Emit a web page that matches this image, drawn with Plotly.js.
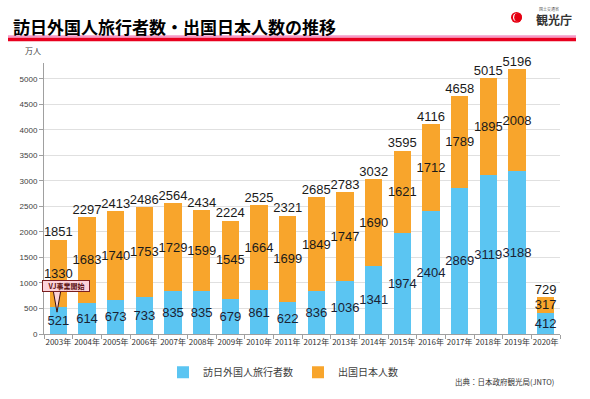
<!DOCTYPE html>
<html><head><meta charset="utf-8">
<script src="https://cdn.plot.ly/plotly-3.0.1.min.js"></script>
<style>html,body{margin:0;padding:0;background:#fff}#c{width:590px;height:399px}</style>
</head><body><div id="c"></div>
<script>
const years = ["2003年","2004年","2005年","2006年","2007年","2008年","2009年","2010年","2011年","2012年","2013年","2014年","2015年","2016年","2017年","2018年","2019年","2020年"];
const inbound = [521,614,673,733,835,835,679,861,622,836,1036,1341,1974,2404,2869,3119,3188,412];
const outbound = [1330,1683,1740,1753,1729,1599,1545,1664,1699,1849,1747,1690,1621,1712,1789,1895,2008,317];
const totals = [1851,2297,2413,2486,2564,2434,2224,2525,2321,2685,2783,3032,3595,4116,4658,5015,5196,729];
const yTicks = [0,500,1000,1500,2000,2500,3000,3500,4000,4500,5000];

const W=590,H=399,L=44,R=30,T=63,B=63;
const PW=W-L-R, PH=H-T-B;
const px=x=>(x-L)/PW, py=y=>(H-B-y)/PH;
const jp='"Noto Sans CJK JP", "Noto Sans", sans-serif';
const lab='"Liberation Sans", Arial, sans-serif';

const data=[
 {type:'bar',name:'訪日外国人旅行者数',x:years,y:inbound,text:inbound.map(String),
  textposition:'inside',insidetextanchor:'middle',textangle:0,constraintext:'none',
  insidetextfont:{family:lab,size:13,color:'#1a2233'},marker:{color:'#5BC5F2'},hoverinfo:'skip'},
 {type:'bar',name:'出国日本人数',x:years,y:outbound,text:outbound.map(String),
  textposition:'inside',insidetextanchor:'middle',textangle:0,constraintext:'none',
  insidetextfont:{family:lab,size:13,color:'#1a1a1a'},marker:{color:'#F8A52C'},hoverinfo:'skip'},
 {type:'scatter',mode:'text',x:years,y:totals,text:totals.map(String),textposition:'top center',
  textfont:{family:lab,size:13,color:'#1a1a1a'},showlegend:false,hoverinfo:'skip',cliponaxis:false}
];

const shapes=[
 {type:'rect',xref:'paper',yref:'paper',x0:px(8),x1:px(576),y0:py(35),y1:py(37.5),fillcolor:'#F59AC8',line:{width:0}},
 {type:'rect',xref:'paper',yref:'paper',x0:px(8),x1:px(576),y0:py(37.5),y1:py(41),fillcolor:'#E8001E',line:{width:0}},
 {type:'circle',xref:'paper',yref:'paper',x0:px(511),x1:px(522),y0:py(11.5),y1:py(22.5),fillcolor:'#E60012',line:{width:0}},
 {type:'circle',xref:'paper',yref:'paper',x0:px(513),x1:px(521),y0:py(13),y1:py(21),fillcolor:'#ffffff',line:{width:0}},
 {type:'circle',xref:'paper',yref:'paper',x0:px(514.2),x1:px(521.8),y0:py(12.6),y1:py(21.4),fillcolor:'#E60012',line:{width:0}},
 {type:'path',xref:'paper',yref:'paper',
  path:`M ${px(53)} ${py(291)} L ${px(57)} ${py(314)} L ${px(61)} ${py(291)} Z`,
  fillcolor:'#FCD3DA',line:{color:'#3a1010',width:1}}
];

const annotations=[
 {xref:'paper',yref:'paper',x:px(33),y:py(50),xanchor:'center',yanchor:'middle',text:'万人',showarrow:false,font:{family:jp,size:8,color:'#404040'}},
 {xref:'paper',yref:'paper',x:px(534),y:py(19),xanchor:'left',yanchor:'middle',text:'観光庁',showarrow:false,font:{family:jp,size:12,color:'#333',weight:'bold'}},
 {xref:'paper',yref:'paper',x:px(537),y:py(9),xanchor:'left',yanchor:'middle',text:'国土交通省',showarrow:false,font:{family:jp,size:4,color:'#555'}},
 {xref:'paper',yref:'paper',x:px(66),y:py(287.5),xanchor:'center',yanchor:'middle',text:'<b>VJ事業開始</b>',showarrow:false,
  font:{family:jp,size:7,color:'#5A1010'},bgcolor:'#FCD3DA',bordercolor:'#7A1F1F',borderwidth:1,borderpad:0,width:46,height:10},
 {xref:'paper',yref:'paper',x:px(556),y:py(384),xanchor:'right',yanchor:'middle',text:'出典：日本政府観光局(JNTO)',showarrow:false,font:{family:jp,size:7.5,color:'#333'}}
];

const layout={
 width:W,height:H,margin:{l:L,r:R,t:T,b:B},paper_bgcolor:'#fff',plot_bgcolor:'#fff',
 barmode:'stack',bargap:0.4,
 title:{text:'訪日外国人旅行者数・出国日本人数の推移',xref:'container',yref:'container',x:13/W,xanchor:'left',y:1-28/H,yanchor:'middle',
  font:{family:jp,size:17,color:'#000',weight:'bold'}},
 xaxis:{type:'category',range:[-0.5,years.length-0.5],showline:true,linecolor:'#a0a0a0',ticks:'outside',tickson:'boundaries',ticklen:4,tickcolor:'#a0a0a0',tickangle:0,
  tickfont:{family:jp,size:8,color:'#333'},showgrid:false,fixedrange:true},
 yaxis:{range:[0,5310],tickvals:yTicks,ticktext:yTicks.map(String),showline:true,linecolor:'#a0a0a0',ticks:'outside',ticklen:4,tickcolor:'#a0a0a0',
  gridcolor:'#e0e0e0',gridwidth:1,zeroline:false,tickfont:{family:lab,size:8,color:'#404040'},fixedrange:true},
 legend:{orientation:'h',x:px(163),xanchor:'left',y:py(360),yanchor:'top',font:{family:jp,size:10,color:'#404040'},
  itemwidth:30,traceorder:'normal'},
 shapes:shapes,annotations:annotations,showlegend:true
};
Plotly.newPlot('c',data,layout,{displayModeBar:false,staticPlot:true});
</script></body></html>
